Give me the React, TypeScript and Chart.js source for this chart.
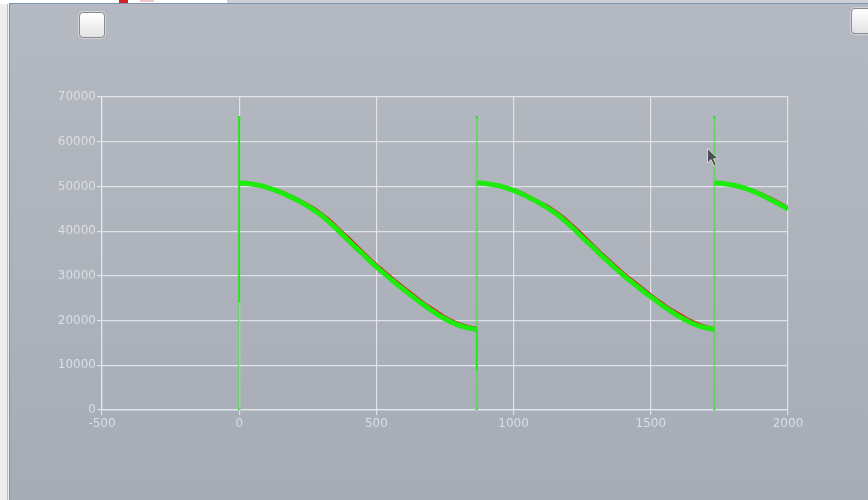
import React, { useEffect, useRef } from "react";
import { Chart, registerables } from "chart.js";

Chart.register(...registerables);

// Sample offsets within one period, and where each period begins.
const periodStarts = [0, 866, 1732];
const fullPeriodPhase = [
  0, 25, 50, 75, 100, 125, 150, 175, 200, 225, 250, 275, 300, 325, 350, 375, 400, 425,
  450, 475, 500, 525, 550, 575, 600, 625, 650, 675, 700, 725, 750, 775, 800, 825, 850, 866,
];
const partialPeriodPhase = [0, 25, 50, 75, 100, 125, 150, 175, 200, 225, 250, 268];

// Measured signal (green) per period
const measured1 = [
  50700, 50700, 50500, 50200, 49800, 49300, 48700, 48000, 47300, 46500, 45600, 44600,
  43500, 42200, 40800, 39300, 37800, 36300, 34900, 33400, 32000, 30700, 29400, 28100,
  26900, 25700, 24500, 23400, 22300, 21300, 20400, 19600, 19000, 18500, 18200, 18000,
];
const measured2 = [
  50800, 50700, 50500, 50200, 49800, 49300, 48700, 48000, 47200, 46400, 45500, 44500,
  43400, 42100, 40700, 39200, 37700, 36300, 34800, 33400, 32000, 30600, 29300, 28100,
  26900, 25700, 24600, 23400, 22400, 21400, 20500, 19700, 19000, 18500, 18200, 17900,
];
const measured3 = [50800, 50700, 50500, 50200, 49800, 49300, 48700, 48000, 47200, 46400, 45600, 44900];

// Reference signal (red) per period
const reference1 = [
  50500, 50500, 50500, 50300, 50000, 49600, 49100, 48400, 47700, 46900, 46100, 45200,
  44100, 42900, 41500, 40000, 38600, 37100, 35600, 34100, 32700, 31400, 30100, 28800,
  27600, 26400, 25200, 24000, 23000, 22000, 21000, 20200, 19500, 19000, 18600, 18500,
];
const reference2 = [
  50600, 50600, 50500, 50300, 50000, 49600, 49100, 48400, 47600, 46800, 46000, 45100,
  44000, 42800, 41400, 40000, 38500, 37000, 35500, 34100, 32700, 31300, 30000, 28800,
  27600, 26400, 25200, 24100, 23000, 22100, 21200, 20300, 19600, 19000, 18600, 18400,
];
const reference3 = [50600, 50600, 50500, 50300, 50000, 49600, 49100, 48400, 47700, 46900, 46100, 45400];

// Period boundary markers
const markerX = [0, 866, 1732];
const markerTop = 65500;
const markerBottom = 0;

// Transient spikes at the boundaries (low and high ends)
const spikeX = [0, 866];
const spikeLow = [24000, 9000];
const spikeHigh = [65500, 18000];

const xTicks = [-500, 0, 500, 1000, 1500, 2000];
const yTicks = [0, 10000, 20000, 30000, 40000, 50000, 60000, 70000];

const GREEN = "rgb(30,234,14)";
const FAINT_GREEN = "rgba(40,240,30,0.55)";
const RED = "rgb(226,24,24)";
const GRID = "rgba(228,232,238,0.9)";
const LABEL = "#dadee5";

function series(phases: number[][], values: number[][]) {
  const pts: { x: number; y: number | null }[] = [];
  phases.forEach((ph, i) => {
    if (i > 0) pts.push({ x: periodStarts[i], y: null });
    ph.forEach((p, j) => pts.push({ x: periodStarts[i] + p, y: values[i][j] }));
  });
  return pts;
}

// One vertical marker per boundary; the stretch covered by a spike is drawn bright.
function markerDataset(x: number) {
  const k = spikeX.indexOf(x);
  const ys = [markerBottom, markerTop];
  if (k >= 0) ys.push(spikeLow[k], spikeHigh[k]);
  const sorted = Array.from(new Set(ys)).sort((a, b) => a - b);
  const inSpike = (c: any) => {
    if (k < 0) return false;
    const a = c.p0.parsed.y;
    const b = c.p1.parsed.y;
    return Math.min(a, b) >= spikeLow[k] && Math.max(a, b) <= spikeHigh[k];
  };
  return {
    data: sorted.map((y) => ({ x, y })),
    borderColor: FAINT_GREEN,
    backgroundColor: GREEN,
    borderWidth: 2,
    pointRadius: (c: any) => {
      const y = c.raw ? c.raw.y : null;
      return y === markerTop || y === markerBottom ? 1.6 : 0;
    },
    pointStyle: "rect",
    pointBorderWidth: 0,
    showLine: true,
    fill: false,
    segment: {
      borderColor: (c: any) => (inSpike(c) ? GREEN : FAINT_GREEN),
    },
    order: 1,
  };
}

function ChartPanel() {
  const ref = useRef<HTMLCanvasElement | null>(null);

  useEffect(() => {
    if (!ref.current) return;
    const phases = [fullPeriodPhase, fullPeriodPhase, partialPeriodPhase];

    const chart = new Chart(ref.current, {
      type: "scatter",
      data: {
        datasets: [
          ...markerX.map(markerDataset),
          {
            data: series(phases, [reference1, reference2, reference3]),
            borderColor: RED,
            backgroundColor: "transparent",
            borderWidth: 1.6,
            pointRadius: 0,
            showLine: true,
            fill: false,
            spanGaps: false,
            cubicInterpolationMode: "monotone",
            order: 3,
          },
          {
            data: series(phases, [measured1, measured2, measured3]),
            borderColor: GREEN,
            backgroundColor: "transparent",
            borderWidth: 5,
            pointRadius: 0,
            showLine: true,
            fill: false,
            spanGaps: false,
            cubicInterpolationMode: "monotone",
            order: 2,
          },
        ] as any,
      },
      options: {
        animation: false,
        responsive: false,
        maintainAspectRatio: false,
        events: [],
        layout: { padding: { left: 42, top: 97, right: 80, bottom: 60 } },
        plugins: { legend: { display: false }, tooltip: { enabled: false } },
        scales: {
          x: {
            type: "linear",
            min: xTicks[0],
            max: xTicks[xTicks.length - 1],
            afterBuildTicks: (s: any) => {
              s.ticks = xTicks.map((v) => ({ value: v }));
            },
            afterFit: (s: any) => {
              s.height = 30;
            },
            grid: { color: GRID, lineWidth: 1.2, tickLength: 5, tickColor: GRID },
            border: { display: true, color: GRID, width: 1.2 },
            ticks: {
              color: LABEL,
              padding: 2,
              maxRotation: 0,
              font: { family: "DejaVu Sans", size: 12 },
              callback: (v: any) => String(v),
            },
          },
          y: {
            type: "linear",
            min: yTicks[0],
            max: yTicks[yTicks.length - 1],
            afterBuildTicks: (s: any) => {
              s.ticks = yTicks.map((v) => ({ value: v }));
            },
            afterFit: (s: any) => {
              s.width = 60;
            },
            grid: { color: GRID, lineWidth: 1.2, tickLength: 5, tickColor: GRID },
            border: { display: true, color: GRID, width: 1.2 },
            ticks: {
              color: LABEL,
              padding: 1,
              font: { family: "DejaVu Sans", size: 12 },
              callback: (v: any) => String(v),
            },
          },
        },
      } as any,
    });
    return () => chart.destroy();
  }, []);

  return (
    <canvas
      ref={ref}
      width={868}
      height={500}
      style={{ position: "absolute", left: 0, top: 0, width: 868, height: 500 }}
    />
  );
}

function CheckBox({ left, top }: { left: number; top: number }) {
  return (
    <div
      style={{
        position: "absolute",
        left,
        top,
        width: 24,
        height: 24,
        borderRadius: 4,
        border: "1px solid #8c8d90",
        background: "linear-gradient(#ffffff, #f3f3f3 45%, #e2e2e2)",
        boxShadow: "0 0 0 1px rgba(255,255,255,0.35)",
      }}
    />
  );
}

export default function App() {
  return (
    <div
      style={{
        position: "fixed",
        left: 0,
        top: 0,
        width: 868,
        height: 500,
        overflow: "hidden",
        background: "#eeeeef",
        fontFamily: "DejaVu Sans",
      }}
    >
      <div style={{ position: "absolute", left: 0, top: 0, width: 227, height: 4, background: "#ffffff" }} />
      <div style={{ position: "absolute", left: 227, top: 0, width: 641, height: 4, background: "#cfd0d3" }} />
      <div style={{ position: "absolute", left: 119, top: 0, width: 9, height: 3, background: "#d41f1f" }} />
      <div style={{ position: "absolute", left: 140, top: 0, width: 14, height: 2, background: "#f1c6ca" }} />
      <div style={{ position: "absolute", left: 7, top: 4, width: 1, height: 496, background: "#bcbdbf" }} />
      <div
        style={{
          position: "absolute",
          left: 9,
          top: 3,
          width: 880,
          height: 510,
          borderLeft: "1px solid #7f93b6",
          borderTop: "1px solid #7f93b6",
          background: "linear-gradient(180deg, #b5b9c1 0%, #aeb3bc 45%, #a6acb6 100%)",
        }}
      />
      <ChartPanel />
      <CheckBox left={79} top={12} />
      <CheckBox left={851} top={8} />
      <svg
        width={16}
        height={22}
        style={{ position: "absolute", left: 706, top: 147, opacity: 0.85 }}
      >
        <path
          d="M1.5 1.5 L1.5 16 L5 12.6 L8 19 L10.4 18 L7.5 11.8 L12.2 11.8 Z"
          fill="#3a3c40"
          stroke="#d8dadd"
          strokeWidth={1}
        />
      </svg>
    </div>
  );
}
